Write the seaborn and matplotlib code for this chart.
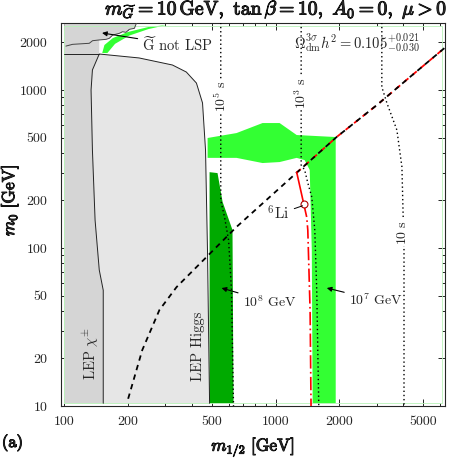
import matplotlib
matplotlib.use("Agg")
import matplotlib.pyplot as plt
import matplotlib.patheffects as pe
import pandas as pd
import seaborn as sns

# m_1/2 [GeV] vs m_0 [GeV]

# LEP chargino bound + gravitino-not-LSP corner (dark grey)
chi_m12 = [100, 153, 153, 146.5, 140, 136, 134, 136, 146.5, 146.5, 157.8, 163.4, 169.5,
           182.2, 188.9, 195.8, 203.3, 214.8, 220, 100]
chi_m0 = [10.4, 10.4, 54, 72.6, 150, 416, 1000, 1340, 1690, 2075, 2093, 2124, 2228,
          2284, 2340, 2318, 2421, 2459, 2667, 2667]

# LEP Higgs bound (light grey)
higgs_m12 = [153, 153, 146.5, 140, 136, 134, 136, 146.5, 226, 325, 378, 422, 451, 466, 476, 487]
higgs_m0 = [10.4, 54, 72.6, 150, 416, 1000, 1340, 1690, 1596, 1440, 1300, 1107, 828, 416, 97, 10.4]

# gravitino-not-LSP boundary (jagged line)
nlsp_m12 = [101.9, 109.5, 131.4, 136.2, 146.5, 157.8, 163.4, 169.5, 182.2, 188.9, 195.8, 203.3, 214.8, 220]
nlsp_m0 = [1897, 1946, 1976, 2052, 2075, 2093, 2124, 2228, 2284, 2340, 2318, 2421, 2459, 2667]

# Omega_dm h^2 band, T_R = 10^7 GeV (light green)
band7_m12 = [476.6, 653, 867, 1044, 1257, 1923, 1923, 1496, 1482, 1449, 1371, 1257, 1044, 867, 653, 476.6]
band7_m0 = [497, 534, 618, 618, 519, 504, 10.4, 10.4, 97, 312, 360, 372, 350, 345, 372, 372]
top7_m12 = [151.3, 155, 170, 200, 250, 305, 250, 203, 174, 160]
top7_m0 = [1714, 1927, 2134, 2329, 2505, 2579, 2430, 2210, 1960, 1714]

# Omega_dm h^2 band, T_R = 10^8 GeV (dark green)
band8_m12 = [487, 487, 531, 561, 625, 632]
band8_m0 = [10.4, 302, 298, 196, 130, 10.4]

# stau NLSP / neutralino boundary (dashed)
dash_m12 = [200, 201, 234, 282, 340, 471, 653, 1300, 1945, 3013, 4313, 6120, 6400]
dash_m0 = [10.4, 11.2, 22.6, 40.5, 56.6, 87.7, 136, 312, 505, 804, 1208, 1790, 1880]
dash_red_m12 = [1257, 1300, 1945, 3013, 4313, 6120, 6400]
dash_red_m0 = [300, 312, 505, 804, 1208, 1790, 1880]

# 6Li constraint (red)
li_solid_m12 = [1257, 1358]
li_solid_m0 = [302, 190]
li_dd_m12 = [1358, 1402, 1419, 1455, 1470]
li_dd_m0 = [190, 157, 130, 40, 10]

# stau lifetime contours (dotted)
tau5_m12 = [550, 550, 573, 599, 618, 632]
tau5_m0 = [2667, 201, 157, 112, 54.2, 10]
tau3_m12 = [1320, 1320, 1371, 1419, 1482, 1531, 1564, 1599]
tau3_m0 = [2667, 335, 312, 258, 210, 130, 54, 10]
tau1_m12 = [3177, 3177, 3357, 3743, 3954, 4045, 4045]
tau1_m0 = [2667, 1045, 828, 558, 326, 97, 10]

x_ticks = [100, 200, 500, 1000, 2000, 5000]
y_ticks = [10, 20, 50, 100, 200, 500, 1000, 2000]

sns.set_style("ticks", {"xtick.direction": "in", "ytick.direction": "in"})
plt.rcParams.update({
    "font.family": "cmr10",
    "mathtext.fontset": "cm",
    "axes.formatter.use_mathtext": True,
    "axes.unicode_minus": False,
    "axes.linewidth": 0.8,
})

fig = plt.figure(figsize=(4.5, 4.59), dpi=100)
ax = fig.add_axes([0.136, 0.1155, 0.853, 0.835])
ax.set_xscale("log")
ax.set_yscale("log")

ax.fill(chi_m12, chi_m0, color="#d5d5d5", lw=0, zorder=1)
ax.fill(higgs_m12, higgs_m0, color="#e6e6e6", lw=0, zorder=1)
ax.fill(band7_m12, band7_m0, color="#33ff33", lw=0, zorder=2)
ax.fill(top7_m12, top7_m0, color="#33ff33", lw=0, zorder=2)
ax.fill(band8_m12, band8_m0, color="#00aa00", lw=0, zorder=2)


def curve(m12, m0, **kw):
    df = pd.DataFrame({"m12": m12, "m0": m0})
    sns.lineplot(data=df, x="m12", y="m0", sort=False, estimator=None, ax=ax, **kw)


# region outlines
curve(higgs_m12, higgs_m0, color="#222222", lw=0.7, zorder=3)
curve([100, 146.5], [1690, 1690], color="#222222", lw=0.7, zorder=3)
curve(nlsp_m12, nlsp_m0, color="#444444", lw=0.7, zorder=3)
curve([100, 6120, 6120, 100, 100], [10.4, 10.4, 2540, 2540, 10.4], color="#b8f2b8", lw=0.6, zorder=2)

# lifetime contours
for m12, m0 in [(tau5_m12, tau5_m0), (tau3_m12, tau3_m0), (tau1_m12, tau1_m0)]:
    curve(m12, m0, color="black", lw=1.0, linestyle=(0, (1, 2)), zorder=4)

# dashed boundary, red/black in the upper part
curve(dash_red_m12, dash_red_m0, color="red", lw=1.3, linestyle=(0, (3, 3)), zorder=5)
curve(dash_m12, dash_m0, color="black", lw=1.3, linestyle=(3, (3, 2.5)), zorder=5)

# 6Li
curve(li_solid_m12, li_solid_m0, color="red", lw=1.2, zorder=5)
curve(li_dd_m12, li_dd_m0, color="red", lw=1.2, linestyle=(0, (8, 2, 1, 2)), zorder=5)
ax.plot([1358], [190], marker="o", ms=5, mfc="white", mec="#b00000", mew=0.8, zorder=6)

# texts
box = dict(facecolor="white", edgecolor="none", pad=1.0)
ax.text(550, 916, r"$10^5\ \mathrm{s}$", rotation=90, ha="center", va="center", fontsize=10, bbox=box, zorder=7)
ax.text(1320, 957, r"$10^3\ \mathrm{s}$", rotation=90, ha="center", va="center", fontsize=10, bbox=box, zorder=7)
ax.text(4000, 126, r"$10\ \mathrm{s}$", rotation=90, ha="center", va="center", fontsize=10, bbox=box, zorder=7)
ax.text(2420, 1983, r"$\Omega^{3\sigma}_{\rm dm}h^2 = 0.105^{+0.021}_{-0.030}$", ha="center", va="center",
        fontsize=10.5, zorder=7)
arrow = dict(arrowstyle="-|>", color="black", lw=0.8, mutation_scale=7, shrinkA=1, shrinkB=0)
ax.annotate(r"$\widetilde{\rm G}$ not LSP", xy=(151, 2297), xytext=(234, 1927), ha="left", va="center",
            fontsize=10.5, zorder=7, arrowprops=arrow)
ax.annotate(r"$10^8\ \mathrm{GeV}$", xy=(555, 55.8), xytext=(698, 45.5), ha="left", va="center",
            fontsize=10, zorder=7, arrowprops=arrow)
ax.annotate(r"$10^7\ \mathrm{GeV}$", xy=(1745, 55.8), xytext=(2218, 46.9), ha="left", va="center",
            fontsize=10, zorder=7, arrowprops=arrow)
ax.annotate(r"$^6\mathrm{Li}$", xy=(1340, 185), xytext=(1165, 164), ha="right", va="center",
            fontsize=11, zorder=7,
            arrowprops=dict(arrowstyle="-", color="black", lw=0.7, shrinkA=1, shrinkB=0))
ax.text(134, 21.6, r"LEP $\chi^{\pm}$", rotation=90, ha="center", va="center", fontsize=10.5, zorder=7)
ax.text(427, 24, "LEP Higgs", rotation=90, ha="center", va="center", fontsize=10.5, zorder=7)

ax.set_xlim(96.8, 6324)
ax.set_ylim(10, 2667)
ax.set_xticks(x_ticks)
ax.set_xticklabels([str(v) for v in x_ticks])
ax.set_yticks(y_ticks)
ax.set_yticklabels([str(v) for v in y_ticks])
ax.xaxis.set_minor_formatter(plt.NullFormatter())
ax.yaxis.set_minor_formatter(plt.NullFormatter())
ax.tick_params(which="both", direction="in", top=True, right=True, labelsize=10, width=0.7)
ax.tick_params(which="major", length=5)
ax.tick_params(which="minor", length=2.5)
ax.tick_params(axis="x", which="major", pad=7)
ax.tick_params(axis="y", which="major", pad=10)

# bold look for the math labels (no bold-italic CM face available)
bold = [pe.withStroke(linewidth=0.7, foreground="black")]
ax.set_xlabel(r"$m_{1/2}\ [\mathrm{GeV}]$", fontsize=12.5, labelpad=6, path_effects=bold)
ax.set_ylabel(r"$m_0\ [\mathrm{GeV}]$", fontsize=12.5, path_effects=bold)
ax.yaxis.set_label_coords(-0.105, 0.537)

fig.text(0.993, 0.978,
         r"$m_{\widetilde{G}} = 10\,\mathrm{GeV},\ \tan\beta = 10,\ A_0 = 0,\ \mu > 0$",
         ha="right", va="center", fontsize=14.2, path_effects=bold)
fig.text(0.004, 0.036, r"$\mathrm{(a)}$", fontsize=12, ha="left", va="center", path_effects=bold)

fig.savefig("out.png", dpi=100)
